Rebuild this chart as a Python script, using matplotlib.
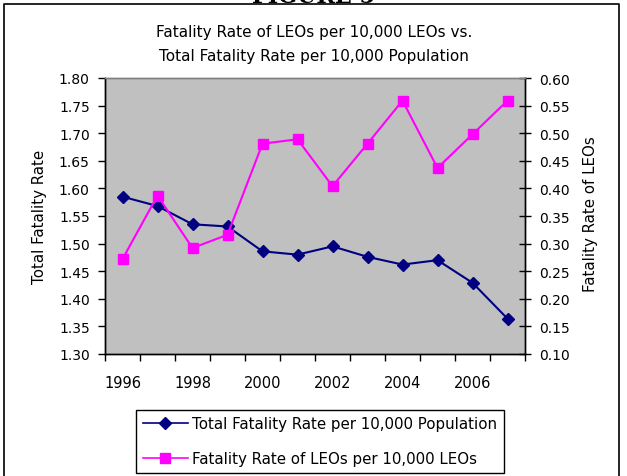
import numpy as np
import matplotlib
matplotlib.use("Agg")
import matplotlib.pyplot as plt
from matplotlib.lines import Line2D

# donnees
years = [1996, 1997, 1998, 1999, 2000, 2001, 2002, 2003, 2004, 2005, 2006, 2007]
total_rate = [1.585, 1.568, 1.535, 1.531, 1.486, 1.480, 1.495, 1.476, 1.462, 1.470, 1.429, 1.364]
leo_rate = [0.272, 0.387, 0.292, 0.316, 0.481, 0.489, 0.404, 0.481, 0.559, 0.437, 0.498, 0.559]
year_labels = ["1996", "1998", "2000", "2002", "2004", "2006"]

W, H = 627, 477
fig = plt.figure(figsize=(W / 100, H / 100), dpi=100)
plt.rcParams['font.family'] = ['DejaVu Sans']

def px(x, y):
    return x / W, 1 - y / H

# cadre exterieur
x0, y0 = px(4, 5)
x1, _ = px(619, 5)
fig.add_artist(Line2D([x0, x0, x1, x1], [0, y0, y0, 0], transform=fig.transFigure,
                      color="black", lw=1.2))
fig.text(313 / W, 1 - 3 / H, "FIGURE 5", ha="center", va="baseline",
         family="serif", weight="bold", fontsize=16)

l, b = 105 / W, 1 - 355 / H
ax = fig.add_axes([l, b, 420 / W, 276 / H])
ax.set_facecolor("#C0C0C0")
ax2 = ax.twinx()

xs = np.arange(len(years))
ax.plot(xs, total_rate, color="#000080", marker="D", markersize=6, lw=1.5)
ax2.plot(xs, leo_rate, color="#FF00FF", marker="s", markersize=7, lw=1.5)

ax.set_xlim(-0.5, len(years) - 0.5)
ax.set_ylim(1.30, 1.80)
ax2.set_ylim(0.10, 0.60)
ax.set_yticks(np.arange(1.30, 1.801, 0.05))
ax2.set_yticks(np.arange(0.10, 0.601, 0.05))
ax.yaxis.set_major_formatter(plt.FormatStrFormatter("%.2f"))
ax2.yaxis.set_major_formatter(plt.FormatStrFormatter("%.2f"))

ax.set_xticks(np.arange(-0.5, len(years), 1.0))
ax.set_xticklabels([])
ax.set_xticks(xs[::2], minor=True)
ax.set_xticklabels(year_labels, minor=True)
ax.tick_params(axis="x", which="major", direction="out", length=5, width=1)
ax.tick_params(axis="x", which="minor", length=0, pad=15, labelsize=10.5)
ax.tick_params(axis="y", direction="out", length=5, width=1, pad=6, labelsize=10)
ax2.tick_params(axis="y", direction="inout", length=8, width=1, pad=6, labelsize=10)

for a in (ax, ax2):
    for s in a.spines.values():
        s.set_color("black")
        s.set_linewidth(1)
    a.spines["top"].set_color("#808080")

fig.text(*px(40, 217), "Total Fatality Rate", rotation=90, ha="center", va="center", fontsize=10.8)
fig.text(*px(590, 214), "Fatality Rate of LEOs", rotation=90, ha="center", va="center", fontsize=10.8)

fig.text(*px(314, 32), "Fatality Rate of LEOs per 10,000 LEOs vs.", ha="center", va="center", fontsize=11)
fig.text(*px(314, 57), "Total Fatality Rate per 10,000 Population", ha="center", va="center", fontsize=11)

h1 = Line2D([], [], color="#000080", marker="D", markersize=6, lw=1.2)
h2 = Line2D([], [], color="#FF00FF", marker="s", markersize=7, lw=1.2)
leg = fig.legend([h1, h2], ["Total Fatality Rate per 10,000 Population",
                            "Fatality Rate of LEOs per 10,000 LEOs"],
                 loc="center", bbox_to_anchor=px(320, 442), fontsize=10.8,
                 fancybox=False, edgecolor="black", framealpha=1,
                 handlelength=3.0, handletextpad=0.3, borderpad=0.45, labelspacing=1.3)
leg.get_frame().set_linewidth(1)

fig.savefig("out.png", dpi=100)
